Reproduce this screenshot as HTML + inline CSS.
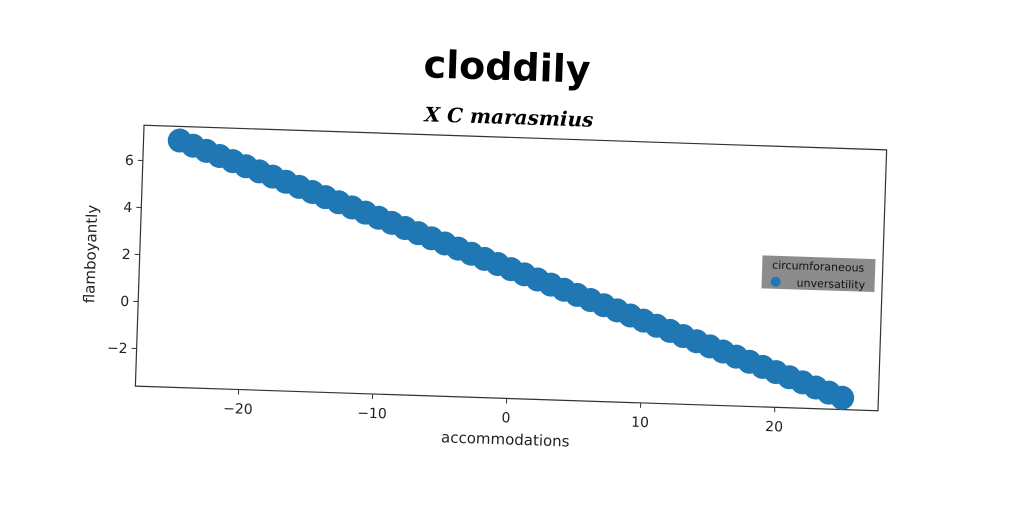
<!DOCTYPE html>
<html><head><meta charset="utf-8"><style>
html,body{margin:0;padding:0;background:#fff;}
svg{display:block;font-family:"DejaVu Sans","Liberation Sans",sans-serif;}
</style></head><body>
<svg id="chart" width="1024" height="512" viewBox="0 0 1024 512" xmlns="http://www.w3.org/2000/svg">
<text x="507" y="80" text-anchor="middle" font-size="38" font-weight="bold" font-family="'DejaVu Sans',sans-serif" transform="rotate(1.9 507 68)">cloddily</text>
<text x="509" y="124" text-anchor="middle" font-size="20" font-weight="bold" font-style="italic" font-family="'DejaVu Serif','Liberation Serif',serif" transform="rotate(1.9 509 117)">X C marasmius</text>
<g id="plot" transform="rotate(1.9 511 268)"></g>
</svg>
<script>
const xValues=[-25,-24,-23,-22,-21,-20,-19,-18,-17,-16,-15,-14,-13,-12,-11,-10,-9,-8,-7,-6,-5,-4,-3,-2,-1,0,1,2,3,4,5,6,7,8,9,10,11,12,13,14,15,16,17,18,19,20,21,22,23,24,25];
const yValues=[6.9,6.7,6.5,6.3,6.1,5.9,5.7,5.5,5.3,5.1,4.9,4.7,4.5,4.3,4.1,3.9,3.7,3.5,3.3,3.1,2.9,2.7,2.5,2.3,2.1,1.9,1.7,1.5,1.3,1.1,0.9,0.7,0.5,0.3,0.1,-0.1,-0.3,-0.5,-0.7,-0.9,-1.1,-1.3,-1.5,-1.7,-1.9,-2.1,-2.3,-2.5,-2.7,-2.9,-3.1];
const xTicks=[-20,-10,0,10,20];
const yTicks=[-2,0,2,4,6];
const xTickLabels=["\u221220","\u221210","0","10","20"];
const yTickLabels=["\u22122","0","2","4","6"];
const NS="http://www.w3.org/2000/svg";
const L=139.5,R=882.5,T=137.5,B=398.5;
const xMin=-27.7,xMax=27.7,yMin=-3.6,yMax=7.5;
const sx=v=>L+(v-xMin)/(xMax-xMin)*(R-L);
const sy=v=>B-(v-yMin)/(yMax-yMin)*(B-T);
const g=document.getElementById('plot');
function mk(t,a,p){const e=document.createElementNS(NS,t);for(const k in a)e.setAttribute(k,a[k]);(p||g).appendChild(e);return e;}
const frame=mk('rect',{x:L,y:T,width:R-L,height:B-T,fill:'none',stroke:'#333','stroke-width':1.2});


xTicks.forEach((v,i)=>{
 const tk=mk('line',{x1:sx(v),x2:sx(v),y1:B,y2:B+5,stroke:'#333'});
 
 
 const t=mk('text',{x:sx(v),y:B+24,'text-anchor':'middle','font-size':14,fill:'#222'});
 t.textContent=xTickLabels[i];
 
 
});
yTicks.forEach((v,i)=>{
 const tk=mk('line',{x1:L-5,x2:L,y1:sy(v),y2:sy(v),stroke:'#333'});
 
 
 const t=mk('text',{x:L-9,y:sy(v)+5,'text-anchor':'end','font-size':14,fill:'#222'});
 t.textContent=yTickLabels[i];
 
 
});
const xt=mk('text',{x:(L+R)/2,y:B+46,'text-anchor':'middle','font-size':15,fill:'#222'});
xt.textContent='accommodations';


const yt=mk('text',{x:0,y:0,'text-anchor':'middle','font-size':15,fill:'#222',transform:`translate(${L-44},${(T+B)/2}) rotate(-90)`});
yt.textContent='flamboyantly';


xValues.forEach((v,i)=>{
 const c=mk('circle',{cx:sx(v),cy:sy(yValues[i]),r:12,fill:'#1f77b4'});
 
 
});
const lg=mk('g',{});


const lb=mk('rect',{x:762,y:247,width:113,height:33,fill:'#8c8c8c'},lg);


const lt=mk('text',{x:818,y:260,'text-anchor':'middle','font-size':11,fill:'#111'},lg);
lt.textContent='circumforaneous';


const lm=mk('circle',{cx:776,cy:273,r:5,fill:'#1f77b4'},lg);


const le=mk('text',{x:797,y:277,'font-size':11,fill:'#111'},lg);
le.textContent='unversatility';


</script>
</body></html>
